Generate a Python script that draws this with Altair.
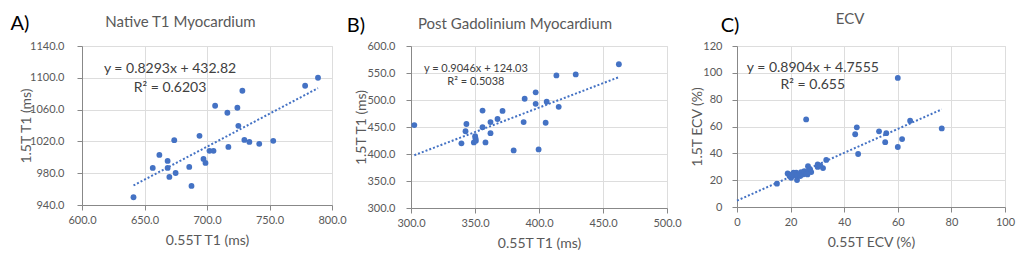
import altair as alt
import pandas as pd

# ---- data ----
a_x = [641.2, 656.6, 661.9, 668.5, 668.5, 669.9, 673.8, 674.9, 685.8, 687.6, 694.0, 697.2, 698.8, 702.0,
       705.2, 706.5, 716.3, 717.1, 724.3, 725.1, 728.3, 729.9, 733.9, 741.8, 753.0, 778.5, 788.8]
a_y = [949.7, 986.6, 1003.0, 995.5, 986.6, 975.3, 1021.5, 980.3, 987.9, 964.0, 1027.0, 998.0, 992.9, 1008.1,
       1008.1, 1064.8, 1056.0, 1013.1, 1062.3, 1039.6, 1083.7, 1021.9, 1019.4, 1016.9, 1020.7, 1090.0, 1100.1]

b_x = [302.6, 339.4, 342.6, 343.3, 349.1, 350.1, 350.7, 350.4, 355.9, 355.9, 358.2, 362.1, 362.1, 367.6,
       371.5, 380.2, 388.0, 388.8, 397.4, 397.4, 399.7, 405.2, 406.0, 415.4, 413.6, 428.7, 462.4]
b_y = [453.5, 419.7, 442.2, 455.6, 421.5, 432.8, 424.7, 429.0, 480.4, 449.7, 421.5, 459.1, 438.5, 464.8,
       479.8, 406.6, 459.1, 502.3, 514.2, 492.9, 408.5, 457.9, 496.7, 487.3, 545.5, 547.4, 566.2]

c_x = [14.9, 25.8, 44.7, 44.1, 45.2, 53.0, 55.7, 55.3, 60.0, 60.0, 61.6, 64.6, 76.4, 33.3, 30.1, 30.1,
       32.1, 31.1, 18.9, 19.6, 20.2, 21.1, 22.4, 22.1, 23.0, 23.9, 24.6, 25.1, 25.8, 26.5, 26.8, 27.3,
       27.7, 26.3, 23.6, 21.7, 20.5]
c_y = [17.4, 65.3, 59.4, 54.2, 39.5, 56.4, 55.0, 48.3, 96.2, 44.7, 50.6, 64.3, 58.6, 35.1, 31.7, 29.9,
       29.0, 30.9, 25.0, 23.1, 21.8, 25.5, 20.1, 25.5, 23.6, 26.0, 24.3, 26.7, 25.0, 30.4, 26.7, 28.0,
       26.0, 24.3, 23.1, 23.6, 24.3]

# regression equations shown on the chart (slope, intercept) and the trendline x span
a_fit = (0.8293, 432.82)
b_fit = (0.9046, 124.03)
c_fit = (0.8904, 4.7555)
a_span = [641.2, 788.8]
b_span = [302.6, 462.4]
c_span = [0.0, 76.4]

a_eq = ["y = 0.8293x + 432.82", "R\u00b2 = 0.6203"]
b_eq = ["y = 0.9046x + 124.03", "R\u00b2 = 0.5038"]
c_eq = ["y = 0.8904x + 4.7555", "R\u00b2 = 0.655"]

a_xticks = [600, 650, 700, 750, 800]
a_yticks = [940, 980, 1020, 1060, 1100, 1140]
b_xticks = [300, 350, 400, 450, 500]
b_yticks = [300, 350, 400, 450, 500, 550, 600]
c_xticks = [0, 20, 40, 60, 80, 100]
c_yticks = [0, 20, 40, 60, 80, 100, 120]

FONT = "Lato"
GREY = "#595959"
BLUE = "#4472C4"


def panel(xs, ys, fit, span, eq, eq_pos, eq_size, xticks, yticks, fmt,
          xtitle, ytitle, title, title_pos, label, label_pos, w, h, ylp, ytp):
    df = pd.DataFrame({"x": xs, "y": ys})
    line = pd.DataFrame({"x": span, "y": [fit[0] * v + fit[1] for v in span]})
    eqdf = pd.DataFrame({"x": [eq_pos[0]] * 2, "y": eq_pos[1], "t": eq})
    xs_ = alt.Scale(domain=[xticks[0], xticks[-1]], nice=False, zero=False)
    ys_ = alt.Scale(domain=[yticks[0], yticks[-1]], nice=False, zero=False)
    common = dict(labelOverlap=False, labelFlush=False, titleFontWeight="normal", titleFont=FONT,
                  labelFont=FONT, titleColor=GREY, labelColor=GREY, labelFontSize=11, titleFontSize=14)
    xax = alt.Axis(values=xticks, format=fmt, title=xtitle, labelPadding=4, titlePadding=8,
                   tickCount=len(xticks), **common)
    yax = alt.Axis(values=yticks, format=fmt, title=ytitle, labelPadding=ylp, titlePadding=ytp,
                   tickCount=len(yticks), **common)
    xenc = alt.X("x:Q", scale=xs_, axis=xax)
    yenc = alt.Y("y:Q", scale=ys_, axis=yax)
    pts = alt.Chart(df).mark_circle(size=34, color=BLUE, opacity=1).encode(x=xenc, y=yenc)
    trend = alt.Chart(line).mark_line(color=BLUE, strokeDash=[2, 2], strokeWidth=2).encode(
        x=xenc, y=yenc
    )
    eqt = alt.Chart(eqdf).mark_text(font=FONT, fontSize=eq_size, color="#404040", align="center",
                                    baseline="middle").encode(x=xenc, y=yenc, text="t:N")
    tdf = pd.DataFrame({"t": [title]})
    tt = alt.Chart(tdf).mark_text(font=FONT, fontSize=15, color=GREY, align="center",
                                  baseline="middle").encode(
        x=alt.value(title_pos[0]), y=alt.value(title_pos[1]), text="t:N")
    ldf = pd.DataFrame({"t": [label]})
    lt = alt.Chart(ldf).mark_text(font=FONT, fontSize=20, color="#000000", align="center",
                                  baseline="middle").encode(
        x=alt.value(label_pos[0]), y=alt.value(label_pos[1]), text="t:N")
    return alt.layer(trend, pts, eqt, tt, lt).properties(width=w, height=h)


def spacer(w):
    return alt.Chart(pd.DataFrame({"v": [0]})).mark_point(opacity=0).encode(
        x=alt.value(0), y=alt.value(0)
    ).properties(width=w, height=10, view=alt.ViewBackground(stroke="transparent"))


pa = panel(a_x, a_y, a_fit, a_span, a_eq, (670.4, [1111, 1087]), 14, a_xticks, a_yticks, ".1f",
           "0.55T T1 (ms)", "1.5T T1 (ms)", "Native T1 Myocardium", (98.5, -24), "A)", (-62, -22),
           250, 159, 13, -4)
pb = panel(b_x, b_y, b_fit, b_span, b_eq, (350.7, [556.5, 532.8]), 11, b_xticks, b_yticks, ".1f",
           "0.55T T1 (ms)", "1.5T T1 (ms)", "Post Gadolinium Myocardium", (104, -22), "B)", (-55, -20),
           256, 162, 11, -2)
pc = panel(c_x, c_y, c_fit, c_span, c_eq, (28.3, [103.8, 90.7]), 14, c_xticks, c_yticks, "d",
           "0.55T ECV (%)", "1.5T ECV (%)", "ECV", (113, -27), "C)", (-7, -20),
           268, 161, 10, -2)

chart = alt.hconcat(pa, spacer(79), pb, spacer(70), pc, spacing=0, bounds="flush").properties(
    padding={"left": 10, "top": 11, "right": 0, "bottom": 0}
).configure_axis(
    grid=True, gridColor="#d9d9d9", gridWidth=1, domain=False, ticks=False, tickSize=0,
    labelOverlap=False,
).configure_view(stroke="#d9d9d9", strokeWidth=1).configure(background="white")

chart.save("out.html", embed_options={"renderer": "svg", "actions": False})
